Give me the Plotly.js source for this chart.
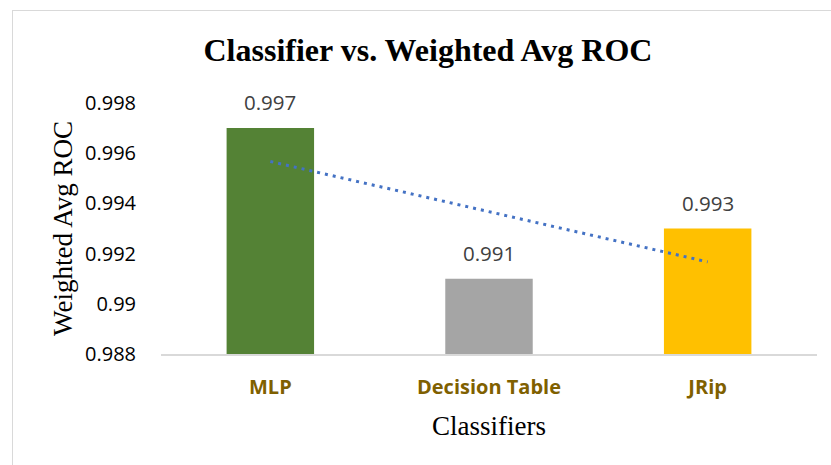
<!DOCTYPE html>
<html>
<head>
<meta charset="utf-8">
<script src="https://cdn.plot.ly/plotly-3.0.1.min.js"></script>
<style>
html,body{margin:0;padding:0;background:#fff;}
#frame{position:absolute;left:12px;top:10px;width:900px;height:600px;border:1.5px solid #d9d9d9;box-sizing:border-box;}
#chart{position:absolute;left:0;top:0;width:831px;height:465px;}
</style>
</head>
<body>
<div id="frame"></div>
<div id="chart"></div>
<script>
// Data
const categories = ["MLP", "Decision Table", "JRip"];
const rocValues = [0.997, 0.991, 0.993];
const barColors = ["#548235", "#A5A5A5", "#FFC000"];
const valueLabels = ["0.997", "0.991", "0.993"];
// Linear trendline endpoints (at MLP and JRip)
const trendCategories = ["MLP", "JRip"];
const trendValues = [0.99567, 0.99167];
const yTickVals = [0.988, 0.99, 0.992, 0.994, 0.996, 0.998];
const yTickText = ["0.988", "0.99", "0.992", "0.994", "0.996", "0.998"];

const bars = {
  type: "bar",
  x: categories,
  y: rocValues,
  marker: {color: barColors},
  hoverinfo: "skip",
  showlegend: false
};
const trend = {
  type: "scatter",
  mode: "lines",
  x: trendCategories,
  y: trendValues,
  line: {color: "#4472C4", width: 3, dash: "3px,5px"},
  hoverinfo: "skip",
  showlegend: false
};

const annotations = categories.map((c, i) => ({
  x: c, y: rocValues[i], xref: "x", yref: "y",
  text: valueLabels[i], showarrow: false,
  yshift: 26,
  font: {family: "Open Sans", size: 20.5, color: "#404040"}
}));

const layout = {
  width: 831, height: 465,
  margin: {l: 160.5, r: 13.5, t: 103, b: 111, pad: 0},
  paper_bgcolor: "rgba(0,0,0,0)",
  plot_bgcolor: "rgba(0,0,0,0)",
  bargap: 0.6,
  title: {
    text: "<b>Classifier vs. Weighted Avg ROC</b>",
    font: {family: "Liberation Serif", size: 32, color: "#000"},
    x: 0.515, xanchor: "center", y: 0.893, yanchor: "middle"
  },
  xaxis: {
    type: "category",
    showline: true, linecolor: "#d9d9d9", linewidth: 1.5,
    showgrid: false, zeroline: false,
    ticks: "outside", ticklen: 14, tickcolor: "rgba(0,0,0,0)",
    tickfont: {family: "Open Sans", size: 20, color: "#7F6000", weight: "bold"},
    title: {text: "Classifiers", font: {family: "Liberation Serif", size: 27, color: "#000"}, standoff: 17},
    automargin: false
  },
  yaxis: {
    range: [0.988, 0.998],
    tickvals: yTickVals, ticktext: yTickText,
    showline: false, showgrid: false, zeroline: false,
    ticks: "outside", ticklen: 20, tickcolor: "rgba(0,0,0,0)",
    tickfont: {family: "Open Sans", size: 20, color: "#000"},
    title: {text: "Weighted Avg ROC", font: {family: "Liberation Serif", size: 27, color: "#000"}, standoff: 4},
    automargin: false
  },
  annotations: annotations
};

Plotly.newPlot("chart", [bars, trend], layout, {displayModeBar: false, staticPlot: true});
</script>
</body>
</html>
